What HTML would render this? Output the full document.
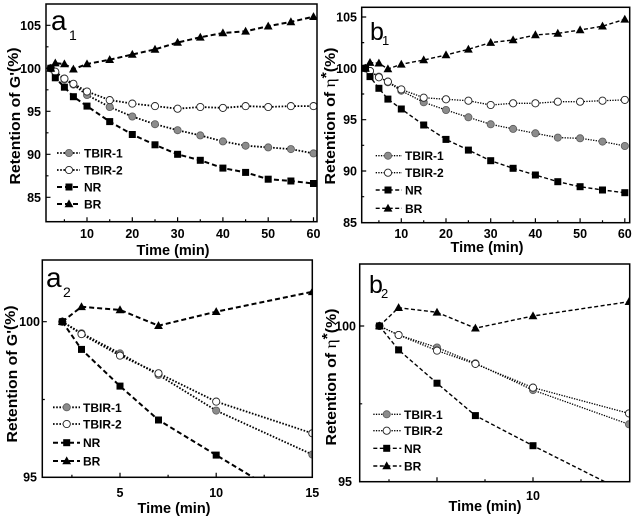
<!DOCTYPE html>
<html><head><meta charset="utf-8"><style>
html,body{margin:0;padding:0;background:#fff;}
svg{display:block;}
text{font-family:"Liberation Sans",Arial,sans-serif;}
.tk{font-size:12.5px;font-weight:bold;fill:#000;}
.lg{font-size:12px;font-weight:bold;fill:#000;}
.tt{font-size:14.5px;font-weight:bold;fill:#000;}
</style></head><body>
<svg width="634" height="520" viewBox="0 0 634 520" xmlns="http://www.w3.org/2000/svg">
<defs>
<rect id="sq" x="-3.5" y="-3.5" width="7" height="7" fill="#000"/>
<path id="tr" d="M0,-4.6L4.4,3.3H-4.4Z" fill="#000"/>
<circle id="gc" r="3.6" fill="#8c8c8c" stroke="#5a5a5a" stroke-width="0.8"/>
<circle id="oc" r="3.6" fill="#fff" stroke="#222" stroke-width="0.9"/>
<clipPath id="ca1"><rect x="46" y="4" width="271" height="217.7"/></clipPath>
<clipPath id="cb1"><rect x="361.7" y="7.3" width="268" height="215.4"/></clipPath>
<clipPath id="ca2"><rect x="42.3" y="260" width="270" height="217.3"/></clipPath>
<clipPath id="cb2"><rect x="359.7" y="264" width="270" height="217.7"/></clipPath>
</defs>
<rect width="634" height="520" fill="#fff"/>

<!-- ================= a1 ================= -->
<g clip-path="url(#ca1)" fill="none">
<polyline stroke="#000" stroke-width="1.8" stroke-dasharray="1.6 1.6" points="50.8,68.3 55.3,72.6 64.4,79.5 73.4,84.6 87,95.0 109.7,107.0 132.3,116.5 155,124.2 177.6,130.2 200.3,135.4 222.9,141.4 245.6,145.7 268.2,147.4 290.9,149.1 313.5,153.4"/>
<polyline stroke="#000" stroke-width="1.8" stroke-dasharray="1.6 1.6" points="50.8,68.3 55.3,71.7 64.4,78.6 73.4,83.8 87,91.5 109.7,100.1 132.3,103.6 155,106.1 177.6,108.7 200.3,107.0 222.9,107.9 245.6,106.1 268.2,107.0 290.9,106.1 313.5,106.1"/>
<polyline stroke="#000" stroke-width="2" stroke-dasharray="5 3" points="50.8,68.3 55.3,77.8 64.4,87.2 73.4,96.7 87,106.1 109.7,121.6 132.3,134.5 155,144.8 177.6,154.3 200.3,160.3 222.9,168.1 245.6,172.4 268.2,179.2 290.9,181.0 313.5,183.5"/>
<polyline stroke="#000" stroke-width="2" stroke-dasharray="5 3" points="50.8,68.3 55.3,63.1 64.4,64.0 73.4,69.2 87,64.0 109.7,59.7 132.3,54.5 155,49.4 177.6,42.5 200.3,37.3 222.9,33.0 245.6,31.3 268.2,26.2 290.9,21.9 313.5,16.7"/>
<use href="#gc" x="50.8" y="68.3"/><use href="#gc" x="55.3" y="72.6"/><use href="#gc" x="64.4" y="79.5"/><use href="#gc" x="73.4" y="84.6"/><use href="#gc" x="87" y="95.0"/><use href="#gc" x="109.7" y="107.0"/><use href="#gc" x="132.3" y="116.5"/><use href="#gc" x="155" y="124.2"/><use href="#gc" x="177.6" y="130.2"/><use href="#gc" x="200.3" y="135.4"/><use href="#gc" x="222.9" y="141.4"/><use href="#gc" x="245.6" y="145.7"/><use href="#gc" x="268.2" y="147.4"/><use href="#gc" x="290.9" y="149.1"/><use href="#gc" x="313.5" y="153.4"/>
<use href="#oc" x="50.8" y="68.3"/><use href="#oc" x="55.3" y="71.7"/><use href="#oc" x="64.4" y="78.6"/><use href="#oc" x="73.4" y="83.8"/><use href="#oc" x="87" y="91.5"/><use href="#oc" x="109.7" y="100.1"/><use href="#oc" x="132.3" y="103.6"/><use href="#oc" x="155" y="106.1"/><use href="#oc" x="177.6" y="108.7"/><use href="#oc" x="200.3" y="107.0"/><use href="#oc" x="222.9" y="107.9"/><use href="#oc" x="245.6" y="106.1"/><use href="#oc" x="268.2" y="107.0"/><use href="#oc" x="290.9" y="106.1"/><use href="#oc" x="313.5" y="106.1"/>
<use href="#sq" x="50.8" y="68.3"/><use href="#sq" x="55.3" y="77.8"/><use href="#sq" x="64.4" y="87.2"/><use href="#sq" x="73.4" y="96.7"/><use href="#sq" x="87" y="106.1"/><use href="#sq" x="109.7" y="121.6"/><use href="#sq" x="132.3" y="134.5"/><use href="#sq" x="155" y="144.8"/><use href="#sq" x="177.6" y="154.3"/><use href="#sq" x="200.3" y="160.3"/><use href="#sq" x="222.9" y="168.1"/><use href="#sq" x="245.6" y="172.4"/><use href="#sq" x="268.2" y="179.2"/><use href="#sq" x="290.9" y="181.0"/><use href="#sq" x="313.5" y="183.5"/>
<use href="#tr" x="50.8" y="68.3"/><use href="#tr" x="55.3" y="63.1"/><use href="#tr" x="64.4" y="64.0"/><use href="#tr" x="73.4" y="69.2"/><use href="#tr" x="87" y="64.0"/><use href="#tr" x="109.7" y="59.7"/><use href="#tr" x="132.3" y="54.5"/><use href="#tr" x="155" y="49.4"/><use href="#tr" x="177.6" y="42.5"/><use href="#tr" x="200.3" y="37.3"/><use href="#tr" x="222.9" y="33.0"/><use href="#tr" x="245.6" y="31.3"/><use href="#tr" x="268.2" y="26.2"/><use href="#tr" x="290.9" y="21.9"/><use href="#tr" x="313.5" y="16.7"/>
</g>
<rect x="46" y="4" width="271" height="217.7" fill="none" stroke="#000" stroke-width="1.5"/>
<path stroke="#000" stroke-width="1.2" fill="none" d="M87,221.7v-4.5M132.3,221.7v-4.5M177.6,221.7v-4.5M222.9,221.7v-4.5M268.2,221.7v-4.5M313.5,221.7v-4.5M64.4,221.7v-2.5M109.7,221.7v-2.5M155,221.7v-2.5M200.3,221.7v-2.5M245.6,221.7v-2.5M290.9,221.7v-2.5M46,197.3h4.5M46,154.3h4.5M46,111.3h4.5M46,68.3h4.5M46,25.3h4.5M46,175.8h2.5M46,132.8h2.5M46,89.8h2.5M46,46.8h2.5"/>
<g class="tk" text-anchor="middle">
<text x="87" y="238">10</text><text x="132.3" y="238">20</text><text x="177.6" y="238">30</text><text x="222.9" y="238">40</text><text x="268.2" y="238">50</text><text x="313.5" y="238">60</text>
</g>
<g class="tk" text-anchor="end">
<text x="41" y="201.8">85</text><text x="41" y="158.8">90</text><text x="41" y="115.8">95</text><text x="41" y="72.8">100</text><text x="41" y="29.8">105</text>
</g>
<text class="tt" x="173" y="255" text-anchor="middle">Time (min)</text>
<text class="tt" transform="translate(20,116) rotate(-90)" text-anchor="middle" textLength="137" lengthAdjust="spacingAndGlyphs">Retention of G'<tspan dy="-2">(%)</tspan></text>
<text x="51" y="30" font-size="28" fill="#000">a</text><text x="69" y="40" font-size="14" fill="#000">1</text>
<g fill="none" stroke="#000">
<line x1="57" y1="153" x2="80" y2="153" stroke-width="1.8" stroke-dasharray="1.6 1.6"/>
<line x1="57" y1="170" x2="80" y2="170" stroke-width="1.8" stroke-dasharray="1.6 1.6"/>
<line x1="57" y1="187" x2="80" y2="187" stroke-width="2" stroke-dasharray="5 3"/>
<line x1="57" y1="204" x2="80" y2="204" stroke-width="2" stroke-dasharray="5 3"/>
</g>
<use href="#gc" x="69" y="153"/><use href="#oc" x="69" y="170"/><use href="#sq" x="69" y="187"/><use href="#tr" x="69" y="204"/>
<g class="lg"><text x="84" y="157.5">TBIR-1</text><text x="84" y="174.5">TBIR-2</text><text x="84" y="191.5">NR</text><text x="84" y="208.5">BR</text></g>

<!-- ================= b1 ================= -->
<g clip-path="url(#cb1)" fill="none">
<polyline stroke="#000" stroke-width="1.3" stroke-dasharray="1.3 1.3" points="365.5,68.3 370.0,71.0 378.9,76.6 387.9,82.3 401.3,90.7 423.7,102.3 446.0,110.0 468.4,117.3 490.7,124.3 513.1,128.9 535.4,133.3 557.8,137.6 580.1,138.3 602.5,141.6 624.8,146.0"/>
<polyline stroke="#000" stroke-width="1.3" stroke-dasharray="1.3 1.3" points="365.5,68.3 370.0,71.0 378.9,77.3 387.9,81.6 401.3,89.4 423.7,97.7 446.0,99.3 468.4,100.7 490.7,105.0 513.1,103.3 535.4,103.3 557.8,101.7 580.1,101.7 602.5,100.7 624.8,99.9"/>
<polyline stroke="#000" stroke-width="1.4" stroke-dasharray="4 2.5" points="365.5,68.3 370.0,76.6 378.9,88.3 387.9,99.1 401.3,109.0 423.7,125.0 446.0,139.4 468.4,150.1 490.7,160.7 513.1,168.3 535.4,175.0 557.8,181.7 580.1,186.7 602.5,190.0 624.8,192.7"/>
<polyline stroke="#000" stroke-width="1.4" stroke-dasharray="4 2.5" points="365.5,68.3 370.0,62.6 378.9,63.2 387.9,69.0 401.3,64.3 423.7,60.0 446.0,55.0 468.4,49.3 490.7,42.6 513.1,40.0 535.4,34.9 557.8,33.4 580.1,30.0 602.5,26.2 624.8,19.3"/>
<use href="#gc" x="365.5" y="68.3"/><use href="#gc" x="370.0" y="71.0"/><use href="#gc" x="378.9" y="76.6"/><use href="#gc" x="387.9" y="82.3"/><use href="#gc" x="401.3" y="90.7"/><use href="#gc" x="423.7" y="102.3"/><use href="#gc" x="446.0" y="110.0"/><use href="#gc" x="468.4" y="117.3"/><use href="#gc" x="490.7" y="124.3"/><use href="#gc" x="513.1" y="128.9"/><use href="#gc" x="535.4" y="133.3"/><use href="#gc" x="557.8" y="137.6"/><use href="#gc" x="580.1" y="138.3"/><use href="#gc" x="602.5" y="141.6"/><use href="#gc" x="624.8" y="146.0"/>
<use href="#oc" x="365.5" y="68.3"/><use href="#oc" x="370.0" y="71.0"/><use href="#oc" x="378.9" y="77.3"/><use href="#oc" x="387.9" y="81.6"/><use href="#oc" x="401.3" y="89.4"/><use href="#oc" x="423.7" y="97.7"/><use href="#oc" x="446.0" y="99.3"/><use href="#oc" x="468.4" y="100.7"/><use href="#oc" x="490.7" y="105.0"/><use href="#oc" x="513.1" y="103.3"/><use href="#oc" x="535.4" y="103.3"/><use href="#oc" x="557.8" y="101.7"/><use href="#oc" x="580.1" y="101.7"/><use href="#oc" x="602.5" y="100.7"/><use href="#oc" x="624.8" y="99.9"/>
<use href="#sq" x="365.5" y="68.3"/><use href="#sq" x="370.0" y="76.6"/><use href="#sq" x="378.9" y="88.3"/><use href="#sq" x="387.9" y="99.1"/><use href="#sq" x="401.3" y="109.0"/><use href="#sq" x="423.7" y="125.0"/><use href="#sq" x="446.0" y="139.4"/><use href="#sq" x="468.4" y="150.1"/><use href="#sq" x="490.7" y="160.7"/><use href="#sq" x="513.1" y="168.3"/><use href="#sq" x="535.4" y="175.0"/><use href="#sq" x="557.8" y="181.7"/><use href="#sq" x="580.1" y="186.7"/><use href="#sq" x="602.5" y="190.0"/><use href="#sq" x="624.8" y="192.7"/>
<use href="#tr" x="365.5" y="68.3"/><use href="#tr" x="370.0" y="62.6"/><use href="#tr" x="378.9" y="63.2"/><use href="#tr" x="387.9" y="69.0"/><use href="#tr" x="401.3" y="64.3"/><use href="#tr" x="423.7" y="60.0"/><use href="#tr" x="446.0" y="55.0"/><use href="#tr" x="468.4" y="49.3"/><use href="#tr" x="490.7" y="42.6"/><use href="#tr" x="513.1" y="40.0"/><use href="#tr" x="535.4" y="34.9"/><use href="#tr" x="557.8" y="33.4"/><use href="#tr" x="580.1" y="30.0"/><use href="#tr" x="602.5" y="26.2"/><use href="#tr" x="624.8" y="19.3"/>
</g>
<rect x="361.7" y="7.3" width="268" height="215.4" fill="none" stroke="#000" stroke-width="1.5"/>
<path stroke="#000" stroke-width="1.2" fill="none" d="M401.3,222.7v-4.5M446,222.7v-4.5M490.7,222.7v-4.5M535.4,222.7v-4.5M580.1,222.7v-4.5M624.8,222.7v-4.5M378.9,222.7v-2.5M423.7,222.7v-2.5M468.4,222.7v-2.5M513.1,222.7v-2.5M557.8,222.7v-2.5M602.5,222.7v-2.5M361.7,171h4.5M361.7,119.7h4.5M361.7,68.3h4.5M361.7,17h4.5M361.7,196.7h2.5M361.7,145.3h2.5M361.7,94h2.5M361.7,42.6h2.5"/>
<g class="tk" text-anchor="middle">
<text x="401.3" y="238">10</text><text x="446" y="238">20</text><text x="490.7" y="238">30</text><text x="535.4" y="238">40</text><text x="580.1" y="238">50</text><text x="624.8" y="238">60</text>
</g>
<g class="tk" text-anchor="end">
<text x="357" y="226.9">85</text><text x="357" y="175.5">90</text><text x="357" y="124.2">95</text><text x="357" y="72.8">100</text><text x="357" y="21.5">105</text>
</g>
<text class="tt" x="487" y="252" text-anchor="middle">Time (min)</text>
<text class="tt" transform="translate(335,116) rotate(-90)" text-anchor="middle" textLength="137" lengthAdjust="spacingAndGlyphs">Retention of <tspan font-family="'Liberation Serif',serif" font-weight="normal" font-size="16">η</tspan><tspan dy="-4">*</tspan><tspan dy="4">(%)</tspan></text>
<text x="370" y="40" font-size="25" fill="#000" font-family="'Liberation Serif',serif">b</text><text x="382" y="45" font-size="13" fill="#000" font-family="'Liberation Serif',serif">1</text>
<g fill="none" stroke="#000">
<line x1="375.7" y1="155.7" x2="402" y2="155.7" stroke-width="1.3" stroke-dasharray="1.3 1.3"/>
<line x1="375.7" y1="172.7" x2="402" y2="172.7" stroke-width="1.3" stroke-dasharray="1.3 1.3"/>
<line x1="375.7" y1="190" x2="402" y2="190" stroke-width="1.4" stroke-dasharray="4 2.5"/>
<line x1="375.7" y1="208.3" x2="402" y2="208.3" stroke-width="1.4" stroke-dasharray="4 2.5"/>
</g>
<use href="#gc" x="388" y="155.7"/><use href="#oc" x="388" y="172.7"/><use href="#sq" x="388" y="190"/><use href="#tr" x="388" y="208.3"/>
<g class="lg"><text x="405" y="160.2">TBIR-1</text><text x="405" y="177.2">TBIR-2</text><text x="405" y="194.5">NR</text><text x="405" y="212.8">BR</text></g>

<!-- ================= a2 ================= -->
<g clip-path="url(#ca2)" fill="none">
<polyline stroke="#000" stroke-width="1.8" stroke-dasharray="1.6 1.6" points="62.3,321.7 81.5,333.2 120,353.4 158.5,374.9 216.2,410.6 312.3,454.5"/>
<polyline stroke="#000" stroke-width="1.8" stroke-dasharray="1.6 1.6" points="62.3,321.7 81.5,334.1 120,355.6 158.5,373.3 216.2,401.6 312.3,433.3"/>
<polyline stroke="#000" stroke-width="2" stroke-dasharray="5 3" points="62.3,321.7 81.5,349.4 120,386.1 158.5,420.0 216.2,455.1 312.3,513.0"/>
<polyline stroke="#000" stroke-width="2" stroke-dasharray="5 3" points="62.3,321.7 81.5,306.8 120,309.9 158.5,325.7 216.2,311.7 312.3,291.8"/>
<use href="#gc" x="62.3" y="321.7"/><use href="#gc" x="81.5" y="333.2"/><use href="#gc" x="120" y="353.4"/><use href="#gc" x="158.5" y="374.9"/><use href="#gc" x="216.2" y="410.6"/><use href="#gc" x="312.3" y="454.5"/>
<use href="#oc" x="62.3" y="321.7"/><use href="#oc" x="81.5" y="334.1"/><use href="#oc" x="120" y="355.6"/><use href="#oc" x="158.5" y="373.3"/><use href="#oc" x="216.2" y="401.6"/><use href="#oc" x="312.3" y="433.3"/>
<use href="#sq" x="62.3" y="321.7"/><use href="#sq" x="81.5" y="349.4"/><use href="#sq" x="120" y="386.1"/><use href="#sq" x="158.5" y="420.0"/><use href="#sq" x="216.2" y="455.1"/>
<use href="#tr" x="62.3" y="321.7"/><use href="#tr" x="81.5" y="306.8"/><use href="#tr" x="120" y="309.9"/><use href="#tr" x="158.5" y="325.7"/><use href="#tr" x="216.2" y="311.7"/><use href="#tr" x="312.3" y="291.8"/>
</g>
<rect x="42.3" y="260" width="270" height="217.3" fill="none" stroke="#000" stroke-width="1.5"/>
<path stroke="#000" stroke-width="1.2" fill="none" d="M120,477.3v-4.5M216.2,477.3v-4.5M71.9,477.3v-2.5M168.1,477.3v-2.5M264.2,477.3v-2.5M42.3,321.7h4.5M42.3,399.5h2.5"/>
<g class="tk" text-anchor="middle">
<text x="120" y="497">5</text><text x="216.2" y="497">10</text><text x="312.3" y="497">15</text>
</g>
<g class="tk" text-anchor="end">
<text x="40" y="326.2">100</text><text x="37" y="481.7">95</text>
</g>
<text class="tt" x="174" y="513" text-anchor="middle">Time (min)</text>
<text class="tt" transform="translate(17,374) rotate(-90)" text-anchor="middle" textLength="137" lengthAdjust="spacingAndGlyphs">Retention of G'<tspan dy="-2">(%)</tspan></text>
<text x="46" y="287" font-size="28" fill="#000">a</text><text x="63" y="297" font-size="14" fill="#000">2</text>
<g fill="none" stroke="#000">
<line x1="53" y1="407.3" x2="80" y2="407.3" stroke-width="1.8" stroke-dasharray="1.6 1.6"/>
<line x1="53" y1="424" x2="80" y2="424" stroke-width="1.8" stroke-dasharray="1.6 1.6"/>
<line x1="53" y1="442.7" x2="80" y2="442.7" stroke-width="2" stroke-dasharray="5 3"/>
<line x1="53" y1="461" x2="80" y2="461" stroke-width="2" stroke-dasharray="5 3"/>
</g>
<use href="#gc" x="66.7" y="407.3"/><use href="#oc" x="66.7" y="424"/><use href="#sq" x="66.7" y="442.7"/><use href="#tr" x="66.7" y="461"/>
<g class="lg"><text x="83" y="411.8">TBIR-1</text><text x="83" y="428.5">TBIR-2</text><text x="83" y="447.2">NR</text><text x="83" y="465.5">BR</text></g>

<!-- ================= b2 ================= -->
<g clip-path="url(#cb2)" fill="none">
<polyline stroke="#000" stroke-width="1.3" stroke-dasharray="1.3 1.3" points="379.4,326 398.6,335.0 437,347.5 475.4,363.3 533,390.1 629,424.3"/>
<polyline stroke="#000" stroke-width="1.3" stroke-dasharray="1.3 1.3" points="379.4,326 398.6,335.0 437,350.6 475.4,363.9 533,387.6 629,413.4"/>
<polyline stroke="#000" stroke-width="1.4" stroke-dasharray="4 2.5" points="379.4,326 398.6,349.9 437,383.2 475.4,415.6 533,445.7 629,493.9"/>
<polyline stroke="#000" stroke-width="1.4" stroke-dasharray="4 2.5" points="379.4,326 398.6,307.7 437,312.3 475.4,328.2 533,316.0 629,301.7"/>
<use href="#gc" x="379.4" y="326"/><use href="#gc" x="398.6" y="335.0"/><use href="#gc" x="437" y="347.5"/><use href="#gc" x="475.4" y="363.3"/><use href="#gc" x="533" y="390.1"/><use href="#gc" x="629" y="424.3"/>
<use href="#oc" x="379.4" y="326"/><use href="#oc" x="398.6" y="335.0"/><use href="#oc" x="437" y="350.6"/><use href="#oc" x="475.4" y="363.9"/><use href="#oc" x="533" y="387.6"/><use href="#oc" x="629" y="413.4"/>
<use href="#sq" x="379.4" y="326"/><use href="#sq" x="398.6" y="349.9"/><use href="#sq" x="437" y="383.2"/><use href="#sq" x="475.4" y="415.6"/><use href="#sq" x="533" y="445.7"/>
<use href="#tr" x="379.4" y="326"/><use href="#tr" x="398.6" y="307.7"/><use href="#tr" x="437" y="312.3"/><use href="#tr" x="475.4" y="328.2"/><use href="#tr" x="533" y="316.0"/><use href="#tr" x="629" y="301.7"/>
</g>
<rect x="359.7" y="264" width="270" height="217.7" fill="none" stroke="#000" stroke-width="1.5"/>
<path stroke="#000" stroke-width="1.2" fill="none" d="M437,481.7v-4.5M533,481.7v-4.5M389,481.7v-2.5M485,481.7v-2.5M581,481.7v-2.5M359.7,326h4.5M359.7,403.8h2.5"/>
<g class="tk" text-anchor="middle">
<text x="533" y="500">10</text>
</g>
<g class="tk" text-anchor="end">
<text x="356" y="330.5">100</text><text x="352" y="486">95</text>
</g>
<text class="tt" x="485" y="511" text-anchor="middle">Time (min)</text>
<text class="tt" transform="translate(336,377) rotate(-90)" text-anchor="middle" textLength="137" lengthAdjust="spacingAndGlyphs">Retention of <tspan font-family="'Liberation Serif',serif" font-weight="normal" font-size="16">η</tspan><tspan dy="-4">*</tspan><tspan dy="4">(%)</tspan></text>
<text x="369" y="293" font-size="25" fill="#000" font-family="'Liberation Serif',serif">b</text><text x="381" y="298" font-size="13" fill="#000" font-family="'Liberation Serif',serif">2</text>
<g fill="none" stroke="#000">
<line x1="373.3" y1="414.3" x2="401.3" y2="414.3" stroke-width="1.3" stroke-dasharray="1.3 1.3"/>
<line x1="373.3" y1="430.7" x2="401.3" y2="430.7" stroke-width="1.3" stroke-dasharray="1.3 1.3"/>
<line x1="373.3" y1="448.3" x2="401.3" y2="448.3" stroke-width="1.4" stroke-dasharray="4 2.5"/>
<line x1="373.3" y1="466" x2="401.3" y2="466" stroke-width="1.4" stroke-dasharray="4 2.5"/>
</g>
<use href="#gc" x="386.7" y="414.3"/><use href="#oc" x="386.7" y="430.7"/><use href="#sq" x="386.7" y="448.3"/><use href="#tr" x="386.7" y="466"/>
<g class="lg"><text x="404" y="418.8">TBIR-1</text><text x="404" y="435.2">TBIR-2</text><text x="404" y="452.8">NR</text><text x="404" y="470.5">BR</text></g>
</svg>
</body></html>
